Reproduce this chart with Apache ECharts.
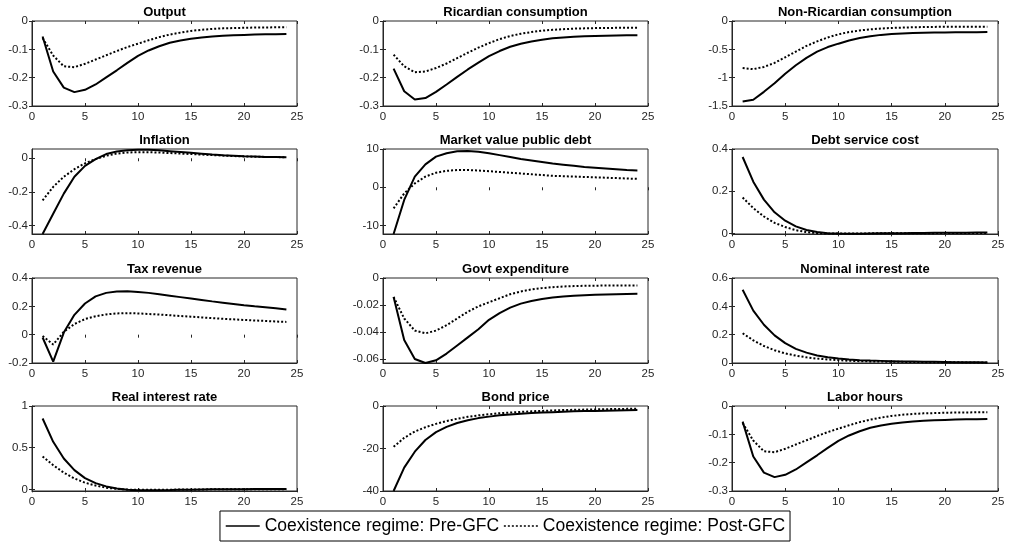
<!DOCTYPE html>
<html><head><meta charset="utf-8">
<script src="https://cdn.jsdelivr.net/npm/echarts@6/dist/echarts.min.js"></script>
<style>html,body{margin:0;padding:0;background:#fff}#c{width:1010px;height:548px}</style>
</head><body><div id="c"></div><script>
const periods = [1,2,3,4,5,6,7,8,9,10,11,12,13,14,15,16,17,18,19,20,21,22,23,24];
const seriesNames = ['Coexistence regime: Pre-GFC', 'Coexistence regime: Post-GFC'];
const titles = ['Output','Ricardian consumption','Non-Ricardian consumption','Inflation','Market value public debt','Debt service cost','Tax revenue','Govt expenditure','Nominal interest rate','Real interest rate','Bond price','Labor hours'];

const outputPre  = [-0.055,-0.178,-0.235,-0.251,-0.243,-0.224,-0.199,-0.174,-0.148,-0.123,-0.104,-0.089,-0.077,-0.069,-0.063,-0.058,-0.055,-0.052,-0.050,-0.049,-0.048,-0.047,-0.047,-0.046];
const outputPost = [-0.060,-0.122,-0.160,-0.163,-0.151,-0.136,-0.121,-0.106,-0.092,-0.080,-0.068,-0.057,-0.048,-0.041,-0.035,-0.031,-0.028,-0.026,-0.025,-0.024,-0.023,-0.023,-0.022,-0.022];
const ricPre  = [-0.168,-0.248,-0.277,-0.272,-0.250,-0.224,-0.197,-0.171,-0.147,-0.124,-0.106,-0.091,-0.080,-0.072,-0.066,-0.061,-0.058,-0.056,-0.054,-0.053,-0.052,-0.051,-0.050,-0.050];
const ricPost = [-0.119,-0.160,-0.181,-0.178,-0.166,-0.150,-0.131,-0.112,-0.094,-0.078,-0.064,-0.053,-0.045,-0.039,-0.034,-0.031,-0.029,-0.027,-0.026,-0.025,-0.025,-0.024,-0.024,-0.024];
const nonRicPre  = [-1.42,-1.39,-1.25,-1.10,-0.93,-0.78,-0.65,-0.54,-0.46,-0.40,-0.345,-0.30,-0.27,-0.245,-0.23,-0.22,-0.213,-0.208,-0.204,-0.201,-0.199,-0.198,-0.197,-0.196];
const nonRicPost = [-0.83,-0.85,-0.81,-0.74,-0.64,-0.54,-0.44,-0.36,-0.29,-0.235,-0.195,-0.167,-0.147,-0.133,-0.123,-0.116,-0.111,-0.107,-0.104,-0.102,-0.101,-0.100,-0.100,-0.100];
const inflPre  = [-0.450,-0.330,-0.210,-0.110,-0.045,-0.005,0.025,0.040,0.048,0.051,0.050,0.047,0.042,0.037,0.032,0.027,0.022,0.018,0.015,0.012,0.010,0.008,0.007,0.006];
const inflPost = [-0.250,-0.170,-0.110,-0.065,-0.030,-0.005,0.015,0.028,0.034,0.036,0.036,0.034,0.031,0.028,0.025,0.022,0.019,0.016,0.013,0.011,0.009,0.008,0.007,0.006];
const debtPre  = [-12.2,-3.3,2.8,6.0,8.0,8.9,9.4,9.5,9.3,8.9,8.4,7.9,7.4,7.0,6.6,6.2,5.9,5.6,5.3,5.1,4.9,4.7,4.5,4.4];
const debtPost = [-5.5,-1.6,1.0,2.8,3.8,4.3,4.5,4.5,4.4,4.2,4.0,3.8,3.6,3.4,3.2,3.0,2.9,2.8,2.7,2.6,2.5,2.4,2.3,2.2];
const dscPre  = [0.362,0.245,0.160,0.100,0.060,0.033,0.016,0.006,0.001,-0.001,-0.002,-0.002,-0.001,0.000,0.000,0.001,0.002,0.002,0.003,0.003,0.003,0.003,0.004,0.004];
const dscPost = [0.170,0.120,0.080,0.050,0.030,0.015,0.006,0.001,-0.001,-0.001,-0.001,-0.001,0.000,0.000,0.000,0.001,0.001,0.001,0.001,0.002,0.002,0.002,0.002,0.002];
const taxPre  = [-0.020,-0.190,0.015,0.140,0.220,0.270,0.295,0.305,0.307,0.302,0.295,0.285,0.275,0.265,0.255,0.245,0.235,0.226,0.217,0.208,0.200,0.193,0.186,0.178];
const taxPost = [-0.010,-0.070,0.020,0.075,0.110,0.130,0.143,0.150,0.152,0.150,0.146,0.142,0.137,0.132,0.127,0.122,0.117,0.112,0.108,0.104,0.100,0.097,0.093,0.090];
const govPre  = [-0.014,-0.046,-0.060,-0.063,-0.061,-0.056,-0.050,-0.044,-0.038,-0.031,-0.026,-0.022,-0.019,-0.017,-0.0155,-0.0145,-0.0138,-0.0132,-0.0128,-0.0125,-0.0122,-0.0120,-0.0118,-0.0117];
const govPost = [-0.014,-0.030,-0.039,-0.041,-0.039,-0.035,-0.030,-0.025,-0.021,-0.018,-0.015,-0.012,-0.010,-0.0085,-0.0075,-0.0068,-0.0063,-0.0060,-0.0058,-0.0057,-0.0056,-0.0055,-0.0055,-0.0055];
const nomPre  = [0.517,0.370,0.270,0.195,0.140,0.100,0.073,0.053,0.040,0.031,0.025,0.020,0.017,0.015,0.013,0.011,0.010,0.009,0.008,0.007,0.006,0.005,0.005,0.004];
const nomPost = [0.210,0.160,0.120,0.090,0.068,0.052,0.040,0.031,0.025,0.020,0.016,0.013,0.011,0.010,0.009,0.008,0.007,0.006,0.006,0.005,0.005,0.004,0.004,0.004];
const realPre  = [0.850,0.570,0.370,0.230,0.135,0.075,0.035,0.010,-0.004,-0.010,-0.012,-0.011,-0.009,-0.006,-0.004,-0.002,0.000,0.001,0.002,0.002,0.003,0.003,0.003,0.003];
const realPost = [0.395,0.290,0.200,0.130,0.080,0.045,0.020,0.005,-0.003,-0.006,-0.006,-0.005,-0.004,-0.003,-0.002,-0.001,0.000,0.000,0.001,0.001,0.001,0.001,0.001,0.001];
const bondPre  = [-40.0,-29.0,-21.5,-16.0,-12.3,-9.8,-8.0,-6.7,-5.7,-5.0,-4.4,-4.0,-3.6,-3.3,-3.1,-2.9,-2.7,-2.5,-2.4,-2.3,-2.2,-2.1,-2.0,-1.9];
const bondPost = [-19.2,-15.0,-12.0,-10.0,-8.4,-7.1,-6.0,-5.1,-4.4,-3.9,-3.4,-3.1,-2.8,-2.5,-2.3,-2.1,-1.9,-1.8,-1.7,-1.6,-1.5,-1.4,-1.35,-1.3];
const laborPre  = [-0.055,-0.178,-0.235,-0.251,-0.243,-0.224,-0.199,-0.174,-0.148,-0.123,-0.104,-0.089,-0.077,-0.069,-0.063,-0.058,-0.055,-0.052,-0.050,-0.049,-0.048,-0.047,-0.047,-0.046];
const laborPost = [-0.060,-0.122,-0.160,-0.163,-0.151,-0.136,-0.121,-0.106,-0.092,-0.080,-0.068,-0.057,-0.048,-0.041,-0.035,-0.031,-0.028,-0.026,-0.025,-0.024,-0.023,-0.023,-0.022,-0.022];

const xTicks = [0,5,10,15,20,25];
const yTicksList = [
  [-0.3,-0.2,-0.1,0],[-0.3,-0.2,-0.1,0],[-1.5,-1,-0.5,0],
  [-0.4,-0.2,0],[-10,0,10],[0,0.2,0.4],
  [-0.2,0,0.2,0.4],[-0.06,-0.04,-0.02,0],[0,0.2,0.4,0.6],
  [0,0.5,1],[-40,-20,0],[-0.3,-0.2,-0.1,0]
];
const yRanges = [
  [-0.3,0],[-0.3,0],[-1.5,0],
  [-0.45,0.055],[-12.2,10],[-0.003,0.4],
  [-0.2,0.4],[-0.063,0],[0,0.6],
  [-0.02,1],[-40,0],[-0.3,0]
];
const preData = [outputPre,ricPre,nonRicPre,inflPre,debtPre,dscPre,taxPre,govPre,nomPre,realPre,bondPre,laborPre];
const postData = [outputPost,ricPost,nonRicPost,inflPost,debtPost,dscPost,taxPost,govPost,nomPost,realPost,bondPost,laborPost];

const FONT = '"Liberation Sans", Arial, Helvetica, sans-serif';
const AX = '#262626';
const colLeft = [32, 383, 732], colW = [265, 265, 266];
const rowTop = [21, 149, 278, 406], rowH = 85;

const grid = [], xAxis = [], yAxis = [], series = [], title = [];
titles.forEach((t, i) => {
  const r = Math.floor(i / 3), c = i % 3;
  grid.push({left: colLeft[c], top: rowTop[r], width: colW[c], height: rowH, show: true,
    borderColor: AX, borderWidth: 1, backgroundColor: 'transparent', containLabel: false});
  title.push({text: t, left: colLeft[c] + colW[c] / 2, top: rowTop[r] - 15, textAlign: 'center',
    textStyle: {fontFamily: FONT, fontSize: 13, fontWeight: 'bold', color: '#000'}, padding: 0});
  const tickStyle = {inside: true, length: 3, lineStyle: {color: AX, width: 1}};
  xAxis.push({gridIndex: i, type: 'value', min: 0, max: 25,
    axisLine: {show: true, onZero: false, lineStyle: {color: AX, width: 1}},
    axisTick: Object.assign({customValues: xTicks}, tickStyle),
    axisLabel: {customValues: xTicks, fontFamily: FONT, fontSize: 11.5, color: AX, margin: 5},
    splitLine: {show: false}});
  xAxis.push({gridIndex: i, type: 'value', position: 'top', min: 0, max: 25,
    axisLine: {show: false}, axisTick: Object.assign({customValues: xTicks}, tickStyle),
    axisLabel: {show: false}, splitLine: {show: false}});
  const yt = yTicksList[i];
  yAxis.push({gridIndex: i, type: 'value', min: yRanges[i][0], max: yRanges[i][1],
    axisLine: {show: true, onZero: false, lineStyle: {color: AX, width: 1}},
    axisTick: Object.assign({customValues: yt}, tickStyle),
    axisLabel: {customValues: yt, fontFamily: FONT, fontSize: 11.5, color: AX, margin: 4,
      formatter: v => String(v)},
    splitLine: {show: false}});
  yAxis.push({gridIndex: i, type: 'value', position: 'right', min: yRanges[i][0], max: yRanges[i][1],
    axisLine: {show: false}, axisTick: Object.assign({customValues: yt}, tickStyle),
    axisLabel: {show: false}, splitLine: {show: false}});
  series.push({name: seriesNames[0], type: 'line', xAxisIndex: 2 * i, yAxisIndex: 2 * i,
    data: periods.map((p, k) => [p, preData[i][k]]), symbol: 'none', showSymbol: false,
    lineStyle: {color: '#000', width: 2, type: 'solid'}, itemStyle: {color: '#000'},
    animation: false, z: 3});
  series.push({name: seriesNames[1], type: 'line', xAxisIndex: 2 * i, yAxisIndex: 2 * i,
    data: periods.map((p, k) => [p, postData[i][k]]), symbol: 'none', showSymbol: false,
    lineStyle: {color: '#000', width: 2, type: [2, 2]}, itemStyle: {color: '#000'},
    animation: false, z: 2});
});

const chart = echarts.init(document.getElementById('c'), null, {renderer: 'canvas'});
chart.setOption({
  backgroundColor: '#fff',
  animation: false,
  title, grid, xAxis, yAxis, series,
  legend: {data: seriesNames, left: 'center', top: 511, orient: 'horizontal',
    borderColor: '#000', borderWidth: 1, padding: [6, 5, 6, 5], itemGap: 4,
    itemWidth: 34, itemHeight: 18,
    itemStyle: {opacity: 0},
    lineStyle: {width: 1.5},
    textStyle: {fontFamily: FONT, fontSize: 17.5, color: '#000'},
    selectedMode: false}
});
</script></body></html>
